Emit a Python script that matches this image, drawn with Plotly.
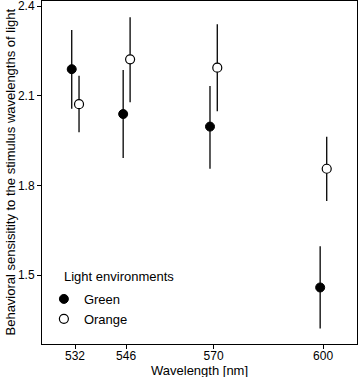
import plotly.graph_objects as go

wavelengths = [532, 546, 570, 600]
green_x = [531.1, 545.2, 569.0, 599.2]
green_y = [2.189, 2.039, 1.997, 1.459]
green_hi = [2.320, 2.186, 2.133, 1.597]
green_lo = [2.057, 1.892, 1.856, 1.322]
orange_x = [533.1, 547.1, 571.0, 601.0]
orange_y = [2.072, 2.222, 2.194, 1.856]
orange_hi = [2.167, 2.363, 2.339, 1.963]
orange_lo = [1.978, 2.078, 2.048, 1.748]
y_ticks = [1.5, 1.8, 2.1, 2.4]

def err(y, hi, lo):
    return [h - v for v, h in zip(y, hi)], [v - l for v, l in zip(y, lo)]

gp, gm = err(green_y, green_hi, green_lo)
op, om = err(orange_y, orange_hi, orange_lo)

FONT = "Liberation Sans, Arial, Helvetica, sans-serif"

fig = go.Figure()
fig.add_trace(go.Scatter(
    x=green_x, y=green_y, mode="markers", name="Green",
    marker=dict(color="black", size=9, line=dict(color="black", width=1)),
    error_y=dict(type="data", symmetric=False, array=gp, arrayminus=gm,
                 color="black", thickness=1.3, width=0),
))
fig.add_trace(go.Scatter(
    x=orange_x, y=orange_y, mode="markers", name="Orange",
    marker=dict(color="white", size=9, line=dict(color="black", width=1.2)),
    error_y=dict(type="data", symmetric=False, array=op, arrayminus=om,
                 color="black", thickness=1.3, width=0),
))

fig.update_layout(
    width=358, height=377,
    margin=dict(l=42, r=1, t=1, b=33, autoexpand=False),
    paper_bgcolor="white", plot_bgcolor="white",
    font=dict(family=FONT, size=12, color="black"),
    showlegend=True,
    legend=dict(
        x=0.006, y=0.175, xanchor="left", yanchor="top",
        bgcolor="rgba(0,0,0,0)", font=dict(size=13),
        tracegroupgap=0, itemwidth=30,
    ),
    xaxis=dict(
        range=[522.95, 609.3], tickvals=wavelengths,
        ticktext=[str(w) for w in wavelengths],
        showgrid=False, zeroline=False, showline=True, linecolor="black",
        linewidth=1, mirror=True, ticks="outside", ticklen=4, tickcolor="black",
        tickfont=dict(size=12), automargin=False, ticklabeloverflow="allow",
        ticklabelstandoff=-3,
    ),
    yaxis=dict(
        range=[1.27, 2.417], tickvals=y_ticks,
        ticktext=[f"{v:.1f}" for v in y_ticks],
        showgrid=False, zeroline=False, showline=True, linecolor="black",
        linewidth=1, mirror=True, ticks="outside", ticklen=4, tickcolor="black",
        tickfont=dict(size=12), automargin=False, ticklabeloverflow="allow",
    ),
    annotations=[
        dict(text="Wavelength [nm]", xref="paper", yref="paper", x=0.5, y=0,
             xanchor="center", yanchor="middle", yshift=-26, showarrow=False,
             font=dict(size=13)),
        dict(text="Behavioral sensisitity to the stimulus wavelengths of light",
             xref="paper", yref="paper", x=0, y=0.5, xanchor="center",
             yanchor="middle", xshift=-32, textangle=-90, showarrow=False,
             font=dict(size=13)),
        dict(text="Light environments", xref="paper", yref="paper", x=0, y=0,
             xanchor="left", yanchor="middle", xshift=20, yshift=68,
             showarrow=False, font=dict(size=13)),
    ],
)

fig.write_html(
    "out.html",
    config={"displayModeBar": False},
    post_script="document.body.style.margin='0';document.body.style.padding='0';",
)
